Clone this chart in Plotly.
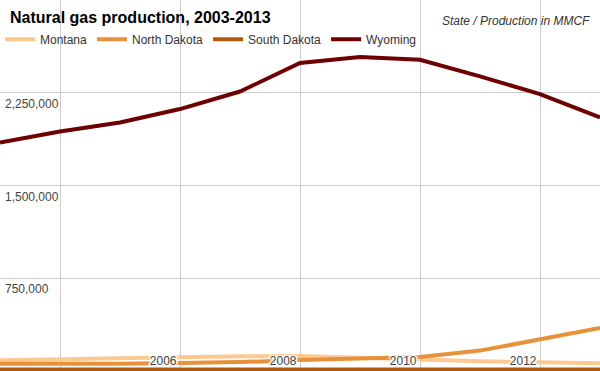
import plotly.graph_objects as go

years = list(range(2003, 2014))
montana = [87000, 97000, 106000, 112000, 119000, 122000, 105000, 88000, 78000, 70000, 63000]
north_dakota = [58000, 57000, 58000, 65000, 72000, 88000, 97000, 113000, 165000, 257000, 347000]
south_dakota = [12000, 12000, 12000, 12000, 12000, 12000, 12000, 12000, 12000, 12000, 12000]
wyoming = [1847000, 1936000, 2009000, 2118000, 2260000, 2491000, 2539000, 2517000, 2382000, 2239000, 2050000]

series = [
    ("Montana", montana, "#fdc991"),
    ("North Dakota", north_dakota, "#e8913a"),
    ("South Dakota", south_dakota, "#b35a0a"),
    ("Wyoming", wyoming, "#6d0000"),
]

x_tickvals = [2004, 2006, 2008, 2010, 2012]
x_ticktext = ["", "2006", "2008", "2010", "2012"]
y_tickvals = [750000, 1500000, 2250000, 3000000]
y_ticktext = ["750,000", "1,500,000", "2,250,000", ""]

FONT = "Arial, 'Liberation Sans', sans-serif"

fig = go.Figure()
for name, vals, color in series:
    fig.add_trace(go.Scatter(x=years, y=vals, mode="lines", name=name,
                             line=dict(color=color, width=4), hoverinfo="skip"))

halo = "1px 1px 1px #fff, -1px -1px 1px #fff, 1px -1px 1px #fff, -1px 1px 1px #fff, 2px 0 1px #fff, -2px 0 1px #fff"

fig.update_layout(
    width=600, height=371,
    margin=dict(l=0, r=0, t=0, b=0, autoexpand=False),
    paper_bgcolor="white", plot_bgcolor="white",
    font=dict(family=FONT, size=12, color="#444"),
    showlegend=True,
    legend=dict(orientation="h", x=0, xanchor="left", y=0.933, yanchor="top",
                bgcolor="rgba(0,0,0,0)", font=dict(size=12, color="#333"),
                itemwidth=30, traceorder="normal"),
    xaxis=dict(range=[2003, 2013], tickvals=x_tickvals, ticktext=x_ticktext,
               showgrid=True, gridcolor="#cccccc", gridwidth=1, zeroline=False,
               ticks="", ticklabelposition="inside left", ticklabelstandoff=0, ticklabelshift=-3,
               tickfont=dict(size=12, color="#444", shadow=halo),
               showline=True, mirror=True, linecolor="#cccccc", linewidth=1),
    yaxis=dict(range=[0, 3000000], tickvals=y_tickvals, ticktext=y_ticktext,
               showgrid=True, gridcolor="#cccccc", gridwidth=1, zeroline=False,
               ticks="", ticklabelposition="inside", ticklabelshift=11, ticklabelstandoff=2,
               tickfont=dict(size=12, color="#444")),
    annotations=[
        dict(text="<b>Natural gas production, 2003-2013</b>", xref="paper", yref="paper",
             x=8/600, y=1-7/371, xanchor="left", yanchor="top", showarrow=False,
             font=dict(size=16, color="#000", family=FONT), bgcolor="rgba(255,255,255,0)"),
        dict(text="<i>State / Production in MMCF</i>", xref="paper", yref="paper",
             x=592/600, y=1-12/371, xanchor="right", yanchor="top", showarrow=False,
             font=dict(size=12, color="#333", family=FONT)),
    ],
)

fig.write_html("out.html", config={"displayModeBar": False},
               post_script="document.body.style.margin='0';document.body.style.overflow='hidden';")
